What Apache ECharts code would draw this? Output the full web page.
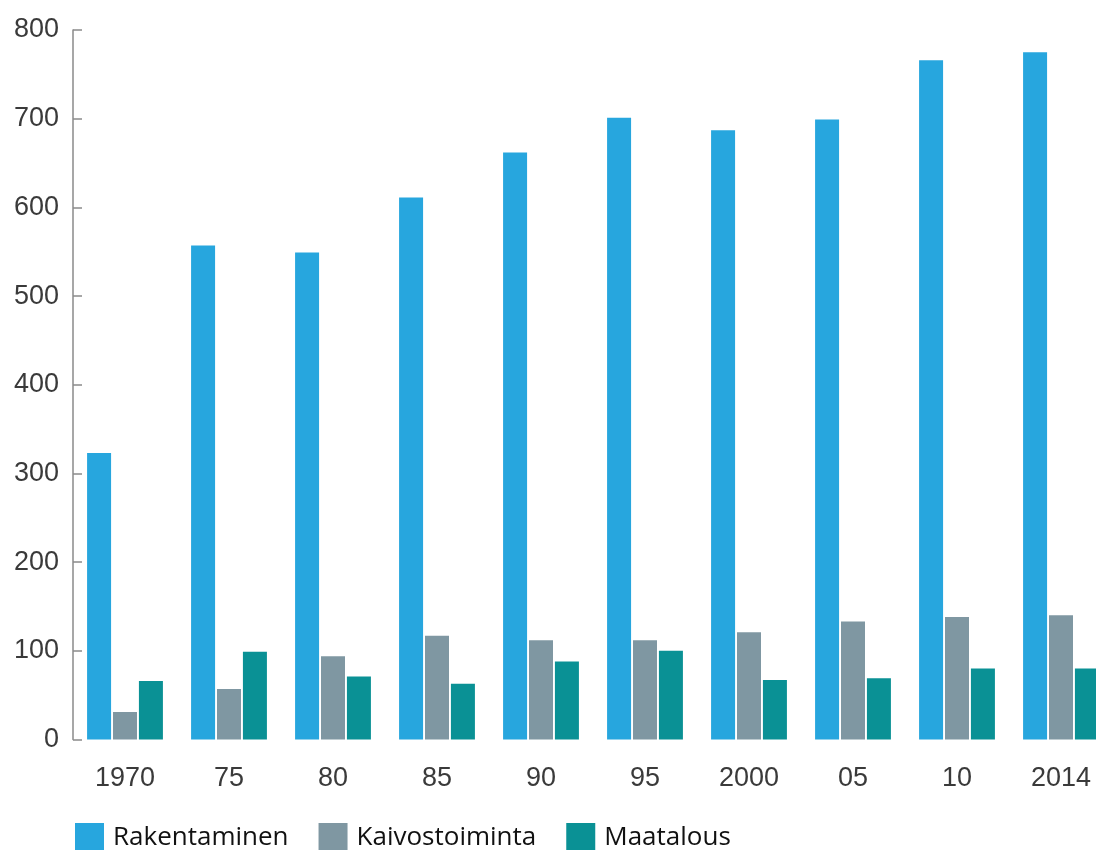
<!DOCTYPE html>
<html>
<head>
<meta charset="utf-8">
<script src="https://cdn.jsdelivr.net/npm/echarts@6/dist/echarts.min.js"></script>
<style>
html,body{margin:0;padding:0;background:#fff;}
#chart{width:1096px;height:850px;}
</style>
</head>
<body>
<div id="chart"></div>
<script>
const categories = ['1970','75','80','85','90','95','2000','05','10','2014'];
const rakentaminen = [323, 557, 549, 611, 662, 701, 687, 699, 766, 775];
const kaivostoiminta = [31, 57, 94, 117, 112, 112, 121, 133, 138, 140];
const maatalous = [66, 99, 71, 63, 88, 100, 67, 69, 80, 80];
const seriesNames = ['Rakentaminen','Kaivostoiminta','Maatalous'];
const yTicks = [0,100,200,300,400,500,600,700,800];

const chart = echarts.init(document.getElementById('chart'), null, {renderer:'canvas'});
const axisFont = {fontFamily:'Liberation Sans, Arial, sans-serif', fontSize:27, color:'#3a3a3a'};
chart.setOption({
  animation:false,
  backgroundColor:'#fff',
  color:['#27a6de','#7f97a2','#0a9195'],
  grid:{left:73, top:30, width:1040, height:709.5, containLabel:false, outerBoundsMode:'none'},
  legend:{
    data:seriesNames,
    left:70, top:818,
    itemWidth:29, itemHeight:29, itemGap:30,
    icon:'rect',
    textStyle:{fontFamily:'Open Sans, Noto Sans, sans-serif', fontSize:26, color:'#111', padding:[0,0,0,4]}
  },
  xAxis:{
    type:'category',
    data:categories,
    axisLine:{show:false},
    axisTick:{show:false},
    axisLabel:Object.assign({margin:26}, axisFont),
    splitLine:{show:false}
  },
  yAxis:{
    type:'value',
    min:yTicks[0], max:yTicks[yTicks.length-1], interval:100,
    axisLine:{show:true, lineStyle:{color:'#8a8a8a', width:1.5}},
    axisTick:{show:true, inside:true, length:9, lineStyle:{color:'#8a8a8a', width:1.5}},
    axisLabel:Object.assign({margin:14}, axisFont),
    splitLine:{show:false}
  },
  series:[
    {name:seriesNames[0], type:'bar', data:rakentaminen, barWidth:24, barGap:'8%'},
    {name:seriesNames[1], type:'bar', data:kaivostoiminta, barWidth:24, barGap:'8%'},
    {name:seriesNames[2], type:'bar', data:maatalous, barWidth:24, barGap:'8%'}
  ]
});
</script>
</body>
</html>
